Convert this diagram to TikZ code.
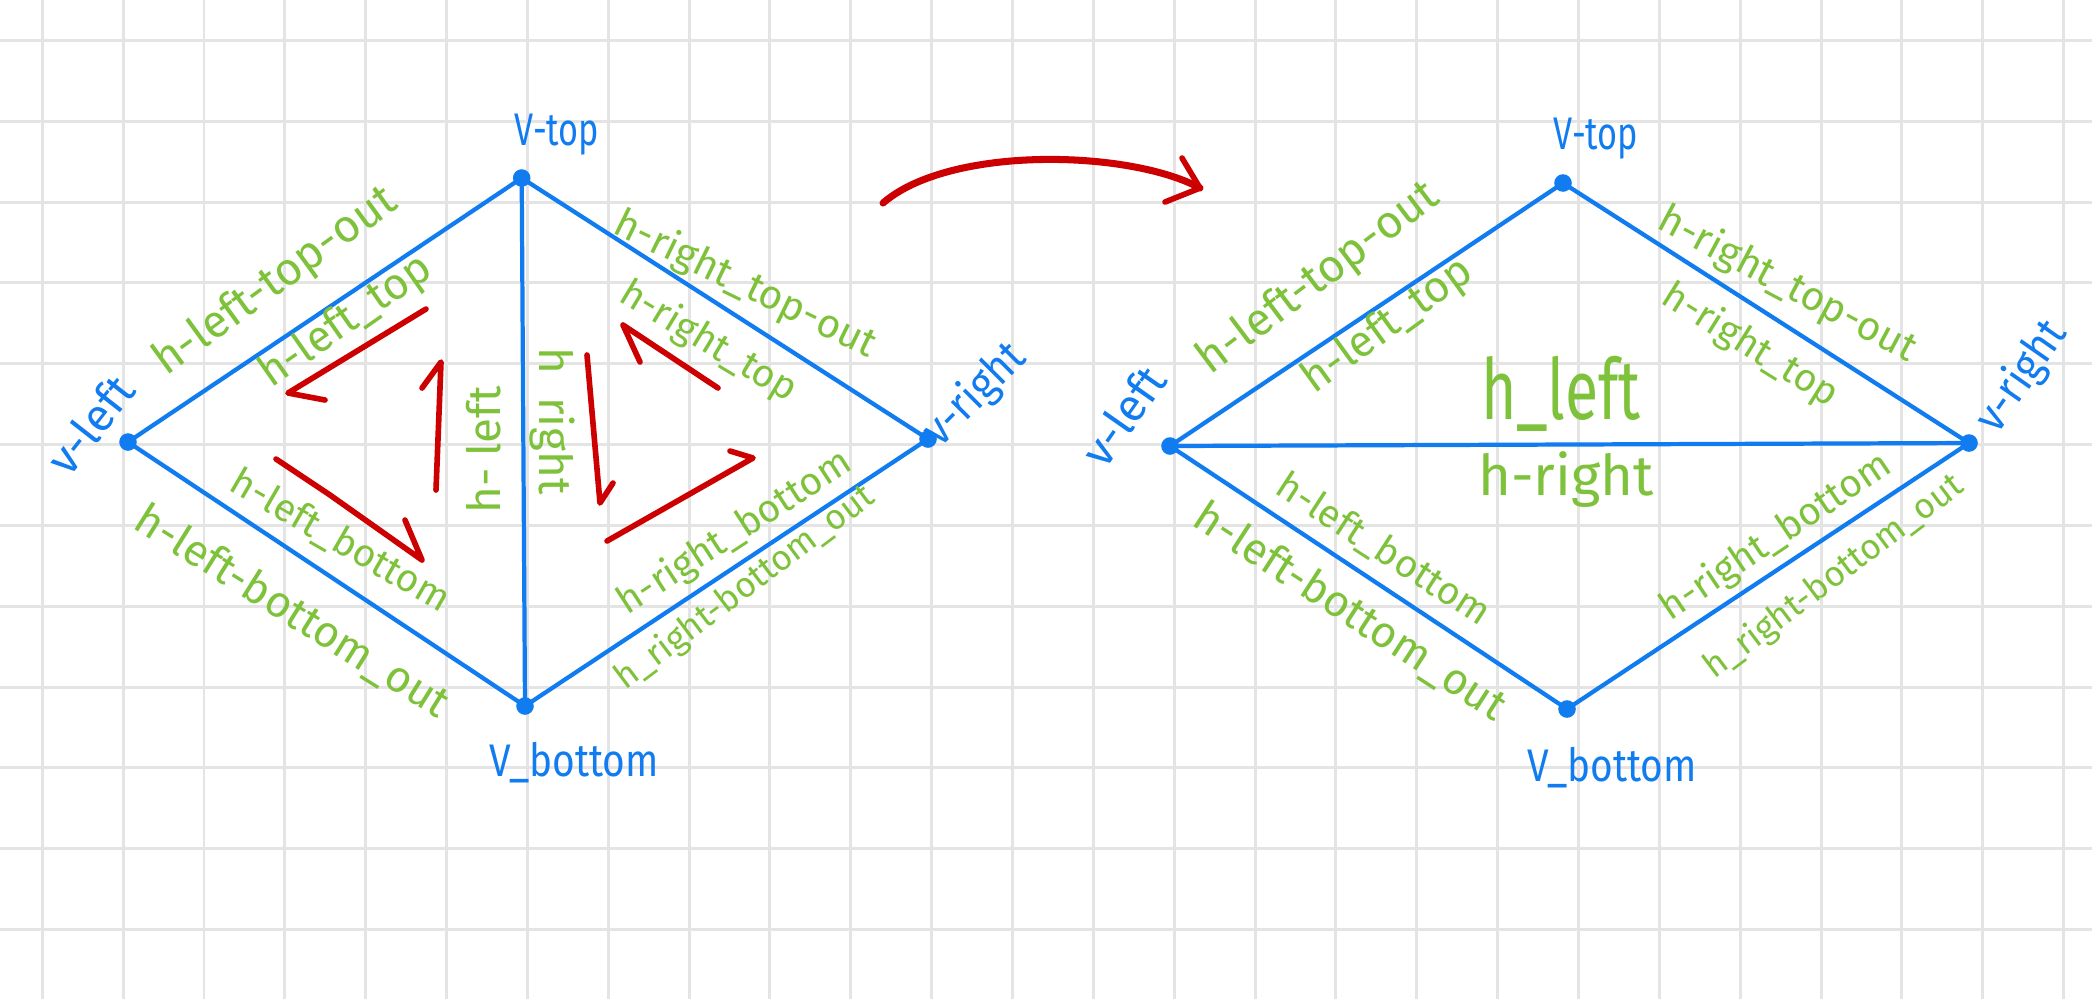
\documentclass[tikz,border=0pt]{standalone}
\usepackage{fontspec}
\setmainfont{Fira Sans}
\definecolor{gridc}{HTML}{E4E4E4}
\definecolor{bl}{RGB}{16,124,240}
\definecolor{gr}{RGB}{125,194,58}
\definecolor{rd}{RGB}{204,0,0}
\newcommand{\nar}[2]{\scalebox{#1}[1]{#2}}
\newcommand{\fs}[1]{\fontsize{#1}{#1}\selectfont}
\begin{document}
\begin{tikzpicture}[x=0.01cm,y=-0.01cm,
  edge/.style={draw=bl,line width=1.2pt,line cap=round,line join=round},
  vdot/.style={circle,fill=bl,inner sep=0pt,minimum size=5pt},
  vlab/.style={text=bl,inner sep=0pt,font=\fs{13}},
  hlab/.style={text=gr,inner sep=0pt},
  redarr/.style={draw=rd,line width=1.6pt,line cap=round,line join=round}]
\useasboundingbox (0,0) rectangle (2092,999);
\fill[white] (0,0) rectangle (2092,999);
\foreach \i in {0,...,25} \draw[gridc,line width=0.85pt] ({42.3+80.85*\i},0) -- ({42.3+80.85*\i},999);
\foreach \j in {0,...,11} \draw[gridc,line width=0.85pt] (0,{40.3+80.85*\j}) -- (2092,{40.3+80.85*\j});

% ---------- left diamond ----------
\node[vdot] (Lt) at (521.7,178) {};
\node[vdot] (Ll) at (128,442) {};
\node[vdot] (Lr) at (928,439) {};
\node[vdot] (Lb) at (525,706) {};
\draw[edge] (Ll.center) -- (Lt.center) -- (Lr.center) -- (Lb.center) -- (Ll.center);
\draw[edge] (Lt.center) -- (Lb.center);

\node[vlab] (Ltl) at (557,135) {\nar{0.75}{V-top}};
\node[vlab,rotate=52] (Lll) at (90,425) {v-left};
\node[vlab,rotate=45] (Lrl) at (975,395) {\nar{0.9}{v-right}};
\node[vlab] (Lbl) at (574,763) {\nar{0.85}{V\_bottom}};

\node[hlab,font=\fs{13},rotate=36] (L1) at (276,282) {h-left-top-out};
\node[hlab,font=\fs{12.5},rotate=35] (L2) at (346,322) {h-left\_top};
\node[hlab,font=\fs{11},rotate=-30] (L3) at (340,541) {h-left\_bottom};
\node[hlab,font=\fs{12.5},rotate=-32] (L4) at (292,612) {h-left-bottom\_out};
\node[hlab,font=\fs{11.5},rotate=-26] (L5) at (745,285) {h-right\_top-out};
\node[hlab,font=\fs{11},rotate=-31] (L6) at (708,342) {h-right\_top};
\node[hlab,font=\fs{11},rotate=33] (L7) at (735,533) {h-right\_bottom};
\node[hlab,font=\fs{10},rotate=37] (L8) at (745,588) {h\_right-bottom\_out};
\node[hlab,font=\fs{13},rotate=90] (L9) at (484,450) {h- left};
\node[hlab,font=\fs{13},rotate=-90] (L10) at (552,421) {h\enspace right};

% red circulation arrows
\draw[redarr] (426,309) -- (288,393) -- (325,400);
\draw[redarr] (436,490) -- (441,362) -- (422,388);
\draw[redarr] (276,459) -- (330,495) -- (422,560) -- (405,520);
\draw[redarr] (587,355) -- (600,503) -- (613,483);
\draw[redarr] (607,541) -- (753,458) -- (730,451);
\draw[redarr] (718,388) -- (623,325) -- (640,362);

% big transition arrow
\coordinate (A0) at (883,203);
\coordinate (A1) at (1200,188);
\draw[redarr,line width=2pt] (A0) .. controls (950,145) and (1130,150) .. (A1);
\draw[redarr] (1182,158) -- (A1) -- (1165,202);

% ---------- right diamond ----------
\node[vdot] (Rt) at (1563,183) {};
\node[vdot] (Rl) at (1170,446) {};
\node[vdot] (Rr) at (1969,443) {};
\node[vdot] (Rb) at (1567,709) {};
\draw[edge] (Rl.center) -- (Rt.center) -- (Rr.center) -- (Rb.center) -- (Rl.center);
\draw[edge] (Rl.center) -- (Rr.center);

\node[vlab] (Rtl) at (1596,139) {\nar{0.75}{V-top}};
\node[vlab,rotate=55] (Rll) at (1123,416) {v-left};
\node[vlab,rotate=55] (Rrl) at (2022,377) {\nar{0.9}{v-right}};
\node[vlab] (Rbl) at (1612,768) {\nar{0.85}{V\_bottom}};

\node[hlab,font=\fs{24}] (Rh1) at (1561,394) {\nar{0.72}{h\_left}};
\node[hlab,font=\fs{16}] (Rh2) at (1566,480) {h-right};

\node[hlab,font=\fs{13},rotate=37] (R1) at (1319,279) {h-left-top-out};
\node[hlab,font=\fs{12.5},rotate=36] (R2) at (1388,326) {h-left\_top};
\node[hlab,font=\fs{11},rotate=-33] (R3) at (1383,550) {h-left\_bottom};
\node[hlab,font=\fs{12.5},rotate=-33] (R4) at (1350,612) {h-left-bottom\_out};
\node[hlab,font=\fs{11.5},rotate=-28] (R5) at (1787,285) {h-right\_top-out};
\node[hlab,font=\fs{11},rotate=-32] (R6) at (1750,346) {h-right\_top};
\node[hlab,font=\fs{11},rotate=34] (R7) at (1776,537) {h-right\_bottom};
\node[hlab,font=\fs{10},rotate=37] (R8) at (1834,577) {h\_right-bottom\_out};
\end{tikzpicture}
\end{document}
